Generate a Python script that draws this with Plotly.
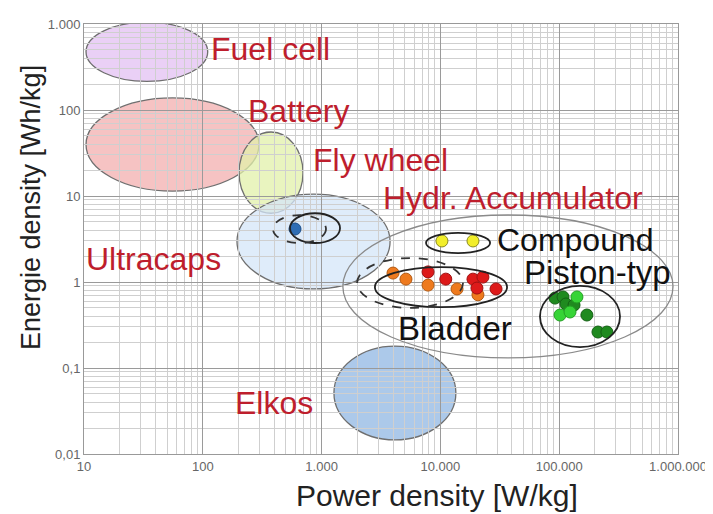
import plotly.graph_objects as go

# ---------------- data ----------------
# Filled technology regions (ellipses): power density [W/kg], energy density [Wh/kg]
fill_names = ["Fuel cell", "Battery", "Fly wheel", "Ultracaps", "Elkos"]
fill_pmin = [10.4, 10.4, 202, 194, 1270]
fill_pmax = [110, 297, 697, 3770, 13500]
fill_emin = [215, 11.4, 6.3, 0.83, 0.0146]
fill_emax = [1050, 138, 55.5, 10.5, 0.18]

# Outline-only regions
outline_names = ["Hydr. Accumulator", "Compound", "Bladder", "Bladder (dashed)",
                 "Piston-typ", "Ultracaps (solid)", "Ultracaps (dashed)"]
outline_pmin = [1510, 7570, 2810, 1990, 68900, 542, 390]
outline_pmax = [908000, 26200, 36400, 15500, 325000, 1429, 1089]
outline_emin = [0.131, 2.17, 0.51, 0.50, 0.175, 2.84, 2.84]
outline_emax = [6.01, 3.72, 1.49, 1.90, 0.90, 6.3, 6.0]

# Measured points
ultracap_p = [597]
ultracap_e = [4.13]
compound_p = [10300, 18800]
compound_e = [3.0, 3.0]
bladder_orange_p = [3990, 5130, 7870, 13800, 20700]
bladder_orange_e = [1.27, 1.08, 0.92, 0.83, 0.71]
bladder_red_p = [7870, 11100, 18800, 22800, 20300, 29400]
bladder_red_e = [1.31, 1.08, 1.08, 1.14, 0.85, 0.83]
piston_dark_p = [92200, 107700, 114000, 133300, 171000, 212000, 252000]
piston_dark_e = [0.65, 0.67, 0.555, 0.54, 0.413, 0.262, 0.262]
piston_light_p = [101600, 123300, 141000]
piston_light_e = [0.413, 0.448, 0.67]

x_tickvals = [10, 100, 1000, 10000, 100000, 1000000]
x_ticktext = ["10", "100", "1.000", "10.000", "100.000", "1.000.000"]
y_tickvals = [0.01, 0.1, 1, 10, 100, 1000]
y_ticktext = ["0,01", "0,1", "1", "10", "100", "1.000"]

# ---------------- styling ----------------
FONT = "Liberation Sans, Arial, sans-serif"
RED = "#BE1E2D"
fill_colors = ["rgba(233,205,246,0.95)", "rgba(245,192,192,0.95)",
               "rgba(226,240,170,0.75)", "rgba(212,230,248,0.75)",
               "rgba(165,196,232,0.92)"]
outline_styles = [
    dict(color="#8a8a8a", width=1.3, dash="solid"),
    dict(color="#222222", width=1.8, dash="solid"),
    dict(color="#222222", width=1.8, dash="solid"),
    dict(color="#333333", width=1.8, dash="dash"),
    dict(color="#222222", width=1.8, dash="solid"),
    dict(color="#222222", width=1.8, dash="solid"),
    dict(color="#333333", width=1.8, dash="dash"),
]

shapes = []
for i, name in enumerate(fill_names):
    shapes.append(dict(type="circle", xref="x", yref="y", layer="below",
                       x0=fill_pmin[i], x1=fill_pmax[i],
                       y0=fill_emin[i], y1=fill_emax[i],
                       fillcolor=fill_colors[i],
                       line=dict(color="#6f6f6f", width=1.3)))
for i, name in enumerate(outline_names):
    shapes.append(dict(type="circle", xref="x", yref="y", layer="above",
                       x0=outline_pmin[i], x1=outline_pmax[i],
                       y0=outline_emin[i], y1=outline_emax[i],
                       line=outline_styles[i]))

fig = go.Figure()


def dots(px, py, color, edge, name):
    fig.add_trace(go.Scatter(x=px, y=py, mode="markers", name=name,
                             marker=dict(size=12, color=color,
                                         line=dict(color=edge, width=1))))


dots(ultracap_p, ultracap_e, "#2E6DB4", "#1d4f8a", "Ultracaps")
dots(compound_p, compound_e, "#F2EE2A", "#8a8a20", "Compound")
dots(bladder_orange_p, bladder_orange_e, "#EE7A1E", "#b35a12", "Bladder (orange)")
dots(bladder_red_p, bladder_red_e, "#DD1A1A", "#a01010", "Bladder (red)")
dots(piston_dark_p, piston_dark_e, "#1F8A1F", "#146014", "Piston (dark)")
dots(piston_light_p, piston_light_e, "#36D436", "#22a022", "Piston (light)")

# The page body has an 8px default margin; the figure is sized so that the
# plot area lands at page pixels x 84..678, y 24..454.
PAGE_OFF = 8
FIG_W, FIG_H = 713 - PAGE_OFF, 514 - PAGE_OFF
L, R, T, B = 84, 678, 24, 454  # plot area in page pixels


def fx(p):
    return (p - L) / (R - L)


def fy(p):
    return (B - p) / (B - T)


labels = [
    ("Fuel cell", 209, 49, RED, 32),
    ("Battery", 246, 111, RED, 32),
    ("Fly wheel", 311, 160, RED, 32),
    ("Hydr. Accumulator", 381, 198, RED, 32),
    ("Ultracaps", 84, 259, RED, 32),
    ("Elkos", 233, 403, RED, 32),
    ("Compound", 495, 240, "#111111", 32),
    ("Piston-typ", 522, 272, "#111111", 33),
    ("Bladder", 396, 328, "#111111", 33),
]
annotations = []
for text, px, py, col, sz in labels:
    annotations.append(dict(text=text, xref="paper", yref="paper",
                            x=fx(px), y=fy(py), xanchor="left", yanchor="middle",
                            showarrow=False,
                            font=dict(family=FONT, size=sz, color=col)))

annotations.append(dict(text="Power density [W/kg]", xref="paper", yref="paper",
                        x=fx(437), y=fy(495), xanchor="center", yanchor="middle",
                        showarrow=False, font=dict(family=FONT, size=30, color="#222")))
annotations.append(dict(text="Energie density [Wh/kg]", xref="paper", yref="paper",
                        x=fx(31), y=fy(208), xanchor="center", yanchor="middle",
                        textangle=-90, showarrow=False,
                        font=dict(family=FONT, size=27, color="#222")))

minor_x = [m * 10 ** k for k in range(1, 6) for m in range(2, 10)]
minor_y = [m * 10.0 ** k for k in range(-2, 3) for m in range(2, 10)]

fig.update_layout(
    width=FIG_W, height=FIG_H, autosize=False,
    margin=dict(l=L - PAGE_OFF, r=713 - R, t=T - PAGE_OFF, b=FIG_H - (B - PAGE_OFF)),
    paper_bgcolor="white", plot_bgcolor="white",
    showlegend=False,
    shapes=shapes, annotations=annotations,
    font=dict(family=FONT),
)
fig.update_xaxes(type="log", range=[1, 6], tickvals=x_tickvals, ticktext=x_ticktext,
                 tickfont=dict(size=13, color="#666"), ticks="", automargin=False,
                 showgrid=True, gridcolor="#9a9a9a", gridwidth=1,
                 minor=dict(tickvals=minor_x, showgrid=True, gridcolor="#cfcfcf", gridwidth=1),
                 showline=True, linecolor="#999", linewidth=1, mirror=True, zeroline=False)
fig.update_yaxes(type="log", range=[-2, 3], tickvals=y_tickvals, ticktext=y_ticktext,
                 tickfont=dict(size=13, color="#666"), ticks="", automargin=False,
                 showgrid=True, gridcolor="#9a9a9a", gridwidth=1,
                 minor=dict(tickvals=minor_y, showgrid=True, gridcolor="#cfcfcf", gridwidth=1),
                 showline=True, linecolor="#999", linewidth=1, mirror=True, zeroline=False)

fig.write_html("out.html")
